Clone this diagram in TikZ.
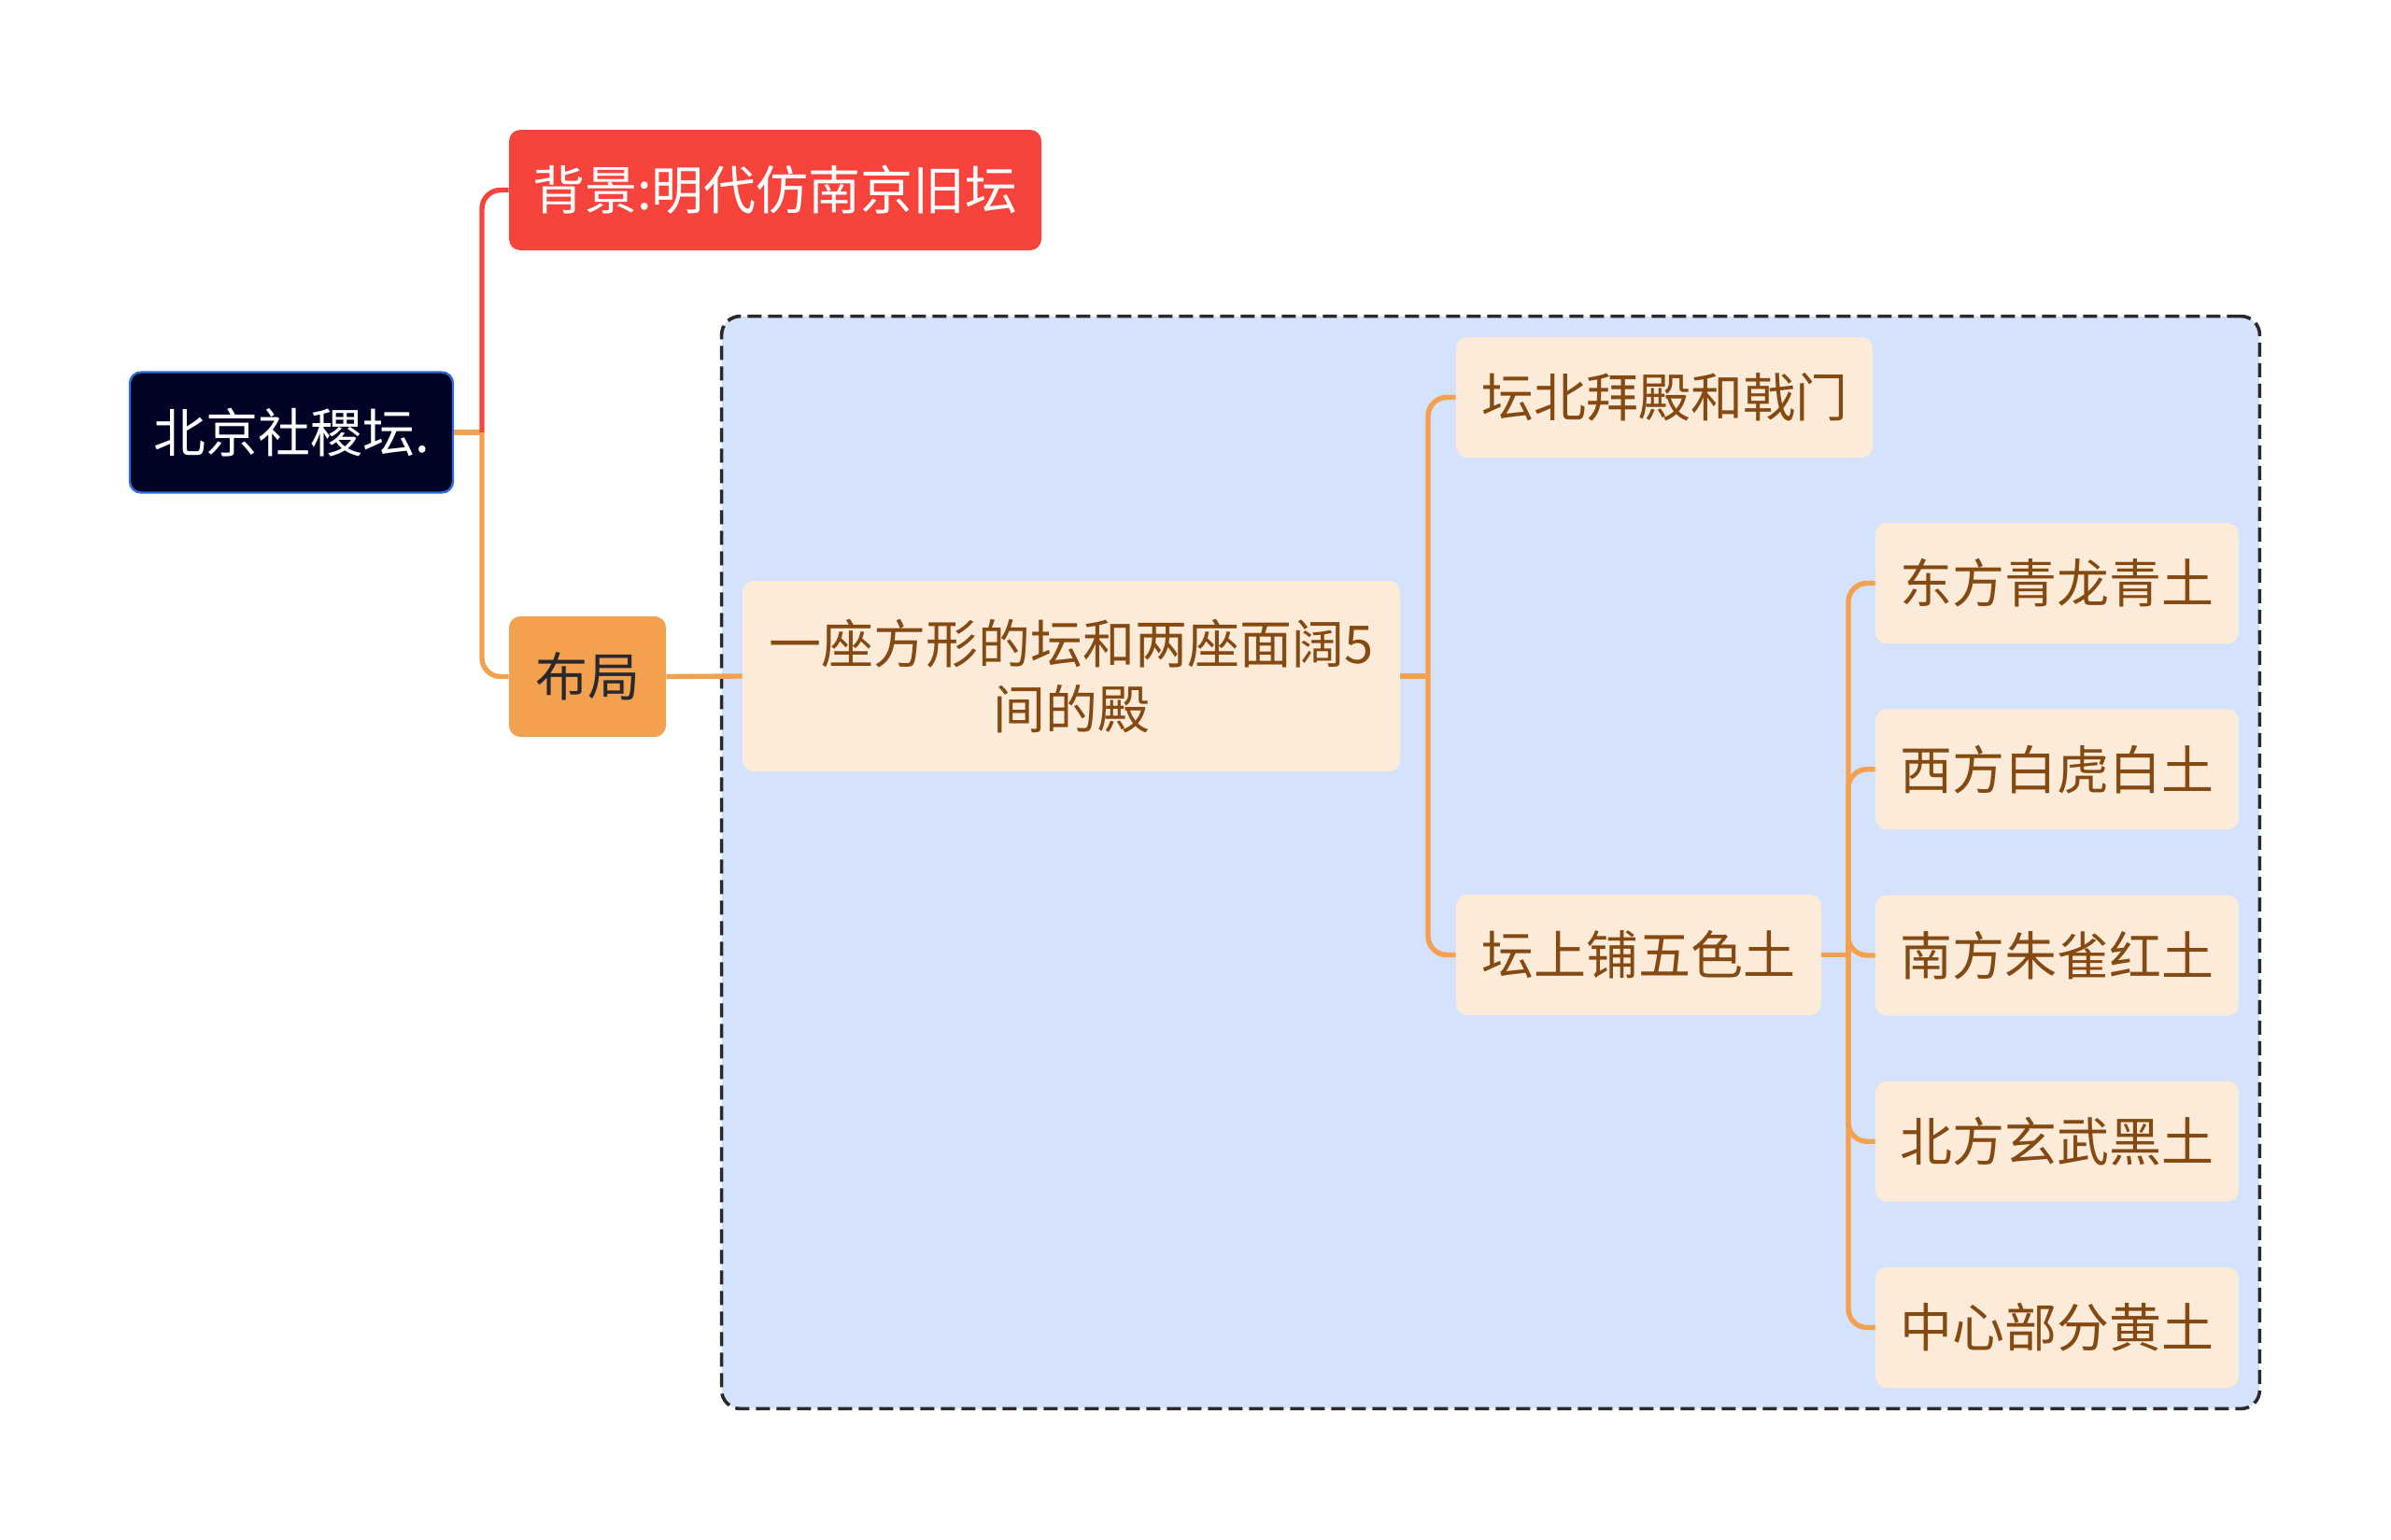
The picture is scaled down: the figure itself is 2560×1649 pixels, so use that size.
\documentclass[tikz,border=0pt]{standalone}
\usepackage{fontspec}
\setmainfont{Noto Sans CJK SC}
\usetikzlibrary{fit,backgrounds}
\definecolor{night}{RGB}{0,2,38}
\definecolor{rootrim}{RGB}{45,110,215}
\definecolor{tomato}{RGB}{246,68,60}
\definecolor{apricot}{RGB}{244,161,79}
\definecolor{cream}{RGB}{253,235,218}
\definecolor{sky}{RGB}{212,227,251}
\definecolor{rust}{RGB}{133,73,18}
\definecolor{ink}{RGB}{40,40,45}
\tikzset{
  topic/.style={fill=#1,rounded corners=6pt,inner sep=0pt,minimum height=64.5pt,
    align=center,font=\fontsize{28}{35}\selectfont},
  sub/.style={topic=cream,text=rust},
  link/.style={line width=2.7pt,draw=#1,rounded corners=10pt},
  link/.default=apricot,
  zone/.style={draw=ink,line width=1.8pt,dash pattern=on 7.5pt off 3.5pt,fill=sky,
    rounded corners=10pt,inner sep=11pt},
}

\begin{document}
\begin{tikzpicture}[x=0.5pt,y=-0.5pt]
    \useasboundingbox (0,0) rectangle (2560,1649);
    % main topic and first level
    \node[topic=night,text=white,draw=rootrim,line width=1.2pt,minimum width=173pt] (root) at (312,463) {北京社稷坛.};
    \node[topic=tomato,text=white,minimum width=285pt] (bg) at (830,203.5) {背景:明代仿南京旧坛};
    \node[topic=apricot,text=ink,minimum width=84pt] (plan) at (629,724.5) {布局};
    % layout branch
    \node[sub,minimum width=352pt,minimum height=102pt] (form) at (1147,724) {一座方形的坛和两座面阔5\\间的殿};
    \node[sub,minimum width=223pt] (hall) at (1782,425.5) {坛北拜殿和戟门};
    \node[sub,minimum width=195.5pt] (soil) at (1754.5,1022.5) {坛上铺五色土};
    \foreach \t [count=\i] in {东方青龙青土,西方白虎白土,南方朱雀红土,北方玄武黑土,中心部分黄土}
      \node[sub,minimum width=194.5pt] (c\i) at (2202.5,{425.25+199.25*\i}) {\t};
    \begin{scope}[on background layer]
      \node[zone,fit=(form)(hall)(c1)(c5)] (frame) {};
    \end{scope}
    % connectors
    \coordinate (f1) at (516,463);
    \coordinate (f2) at (1529,724);
    \coordinate (f3) at (1979,1022.5);
    \draw[link] (root.east) -- (f1);
    \draw[link=tomato] (f1) |- (bg.west);
    \draw[link] (f1) |- (plan.west);
    \draw[link] (plan.east) -- (form.west);
    \draw[link] (form.east) -- (f2);
    \draw[link] (f2) |- (hall.west);
    \draw[link] (f2) |- (soil.west);
    \draw[link] (soil.east) -- (f3);
    \foreach \i in {1,...,5} \draw[link] (f3) |- (c\i.west);
  \end{tikzpicture}
\end{document}
